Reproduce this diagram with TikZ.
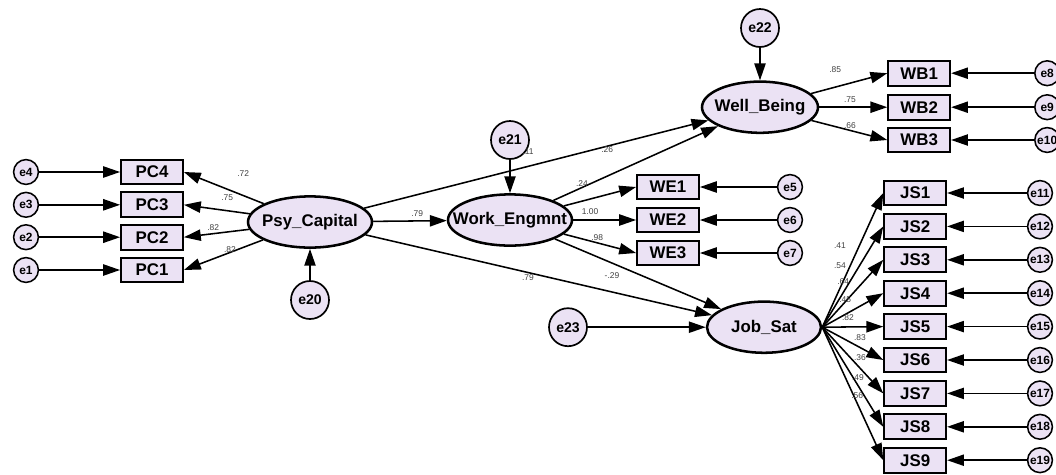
\documentclass[tikz,border=0pt]{standalone}
\usepackage{fontspec}
\setmainfont{Liberation Sans}
\usepackage{xcolor}
\usetikzlibrary{arrows.meta, shapes.geometric}

\definecolor{amos}{RGB}{235,226,244}

\begin{document}
\begin{tikzpicture}[
        latent/.style={ellipse, draw, line width=1.8pt, fill=amos, minimum width=3.1cm, minimum height=1.28cm, inner sep=0pt,
            label={[font=\bfseries\fontsize{12}{12}\selectfont]center:#1}},
        observed/.style={rectangle, draw, line width=1.3pt, fill=amos, minimum width=1.55cm, minimum height=0.62cm, inner sep=0pt,
            font=\bfseries\fontsize{12}{12}\selectfont},
        err/.style={circle, draw, line width=1.1pt, fill=amos, minimum size=0.62cm, inner sep=0pt, font=\bfseries\fontsize{8.5}{8.5}\selectfont},
        disturb/.style={circle, draw, line width=1.2pt, fill=amos, minimum size=0.95cm, inner sep=0pt, font=\bfseries\fontsize{10}{10}\selectfont},
        weight/.style={font=\fontsize{6}{6}\selectfont, text=black!75, inner sep=1pt},
        link/.style={->, line width=1.1pt},
        >={Triangle[length=12pt,width=8pt]}
    ]
        \useasboundingbox (0,0) rectangle (26.4,-11.85);

        % Latent variables
        \node[latent=Psy\_Capital] (Psy) at (7.75,-5.55) {};
        \node[latent=Work\_Engmnt] (Work) at (12.75,-5.5) {};
        \node[latent=Well\_Being, minimum width=2.9cm] (Well) at (19.0,-2.68) {};
        \node[latent=Job\_Sat, minimum width=2.85cm] (Job) at (19.1,-8.18) {};

        % Disturbances
        \node[disturb] (e20) at (7.75,-7.5) {e20};
        \node[disturb] (e21) at (12.75,-3.5) {e21};
        \node[disturb] (e22) at (19.0,-0.7) {e22};
        \node[disturb] (e23) at (14.2,-8.18) {e23};

        % Psy_Capital indicators
        \foreach \i/\y in {1/-6.75,2/-5.93,3/-5.12,4/-4.3} {
            \node[observed] (PC\i) at (3.8,\y) {PC\i};
            \node[err] (e\i) at (0.65,\y) {e\i};
            \draw[link] (e\i) -- (PC\i);
            \draw[link] (Psy) -- (PC\i.east);
        }

        % Work_Engmnt indicators
        \foreach \i/\y in {1/-4.675,2/-5.5,3/-6.325} {
            \pgfmathtruncatemacro\k{\i+4}
            \node[observed] (WE\i) at (16.7,\y) {WE\i};
            \node[err] (e\k) at (19.75,\y) {e\k};
            \draw[link] (e\k) -- (WE\i);
            \draw[link] (Work) -- (WE\i.west);
        }

        % Well_Being indicators
        \foreach \i/\y in {1/-1.83,2/-2.68,3/-3.5} {
            \pgfmathtruncatemacro\k{\i+7}
            \node[observed] (WB\i) at (22.98,\y) {WB\i};
            \node[err] (e\k) at (26.18,\y) {e\k};
            \draw[link] (e\k) -- (WB\i);
            \draw[link] (Well) -- (WB\i.west);
        }

        % Job_Sat indicators
        \foreach \i in {1,...,9} {
            \pgfmathtruncatemacro\k{\i+10}
            \node[observed] (JS\i) at (22.88,{-4.825-0.835*(\i-1)}) {JS\i};
            \node[err] (e\k) at (26.0,{-4.825-0.835*(\i-1)}) {e\k};
            \draw[link] (e\k) -- (JS\i);
            \draw[link] (Job.east) -- (JS\i.west);
        }

        % Structural paths
        \draw[link] (e20) -- (Psy);
        \draw[link] (e21) -- (Work);
        \draw[link] (e22) -- (Well);
        \draw[link] (e23) -- (Job);
        \draw[link] (Psy) -- (Work);
        \draw[link] (Psy) -- (Well);
        \draw[link] (Psy) -- (Job);
        \draw[link] (Work) -- (Well);
        \draw[link] (Work) -- (Job);

        % Weights
        \node[weight] (wPC4) at (6.08,-4.33) {.72};
        \node[weight] (wPC3) at (5.68,-4.93) {.75};
        \node[weight] (wPC2) at (5.33,-5.68) {.82};
        \node[weight] (wPC1) at (5.75,-6.25) {.82};
        \node[weight] (wPW) at (10.43,-5.35) {.79};
        \node[weight] (wPB) at (13.2,-3.8) {.11};
        \node[weight] (wWB) at (15.18,-3.75) {.26};
        \node[weight] (wWE1) at (14.55,-4.6) {.24};
        \node[weight] (wWE2) at (14.75,-5.28) {1.00};
        \node[weight] (wWE3) at (14.93,-5.95) {.98};
        \node[weight] (wWJ) at (15.3,-6.9) {-.29};
        \node[weight] (wPJ) at (13.2,-6.95) {.79};
        \node[weight] (wWB1) at (20.88,-1.75) {.85};
        \node[weight] (wWB2) at (21.25,-2.48) {.75};
        \node[weight] (wWB3) at (21.25,-3.15) {.66};
        \foreach \v/\x/\y [count=\i] in {.41/21.0/-6.13, .54/21.0/-6.63, .64/21.08/-7.05, .45/21.13/-7.48, .82/21.2/-7.95,
                                         .83/21.5/-8.43, .36/21.5/-8.93, .49/21.45/-9.43, .56/21.43/-9.88}
            \node[weight] (wJS\i) at (\x,\y) {\v};
    \end{tikzpicture}
\end{document}
